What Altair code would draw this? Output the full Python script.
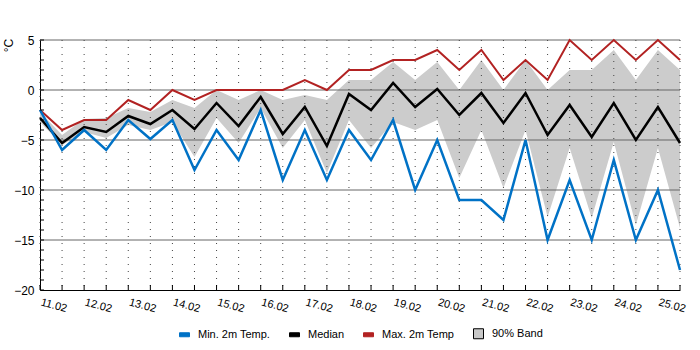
import altair as alt
import pandas as pd

# 12-hourly time steps starting 11.02 00:00
times = pd.date_range("2025-02-11 00:00", periods=30, freq="12h")

min_temp = [-2, -6, -4, -6, -3, -4.9, -3, -8, -4, -7,
            -2, -9, -4, -9, -4, -7, -3, -10, -5, -11,
            -11, -13, -5, -15, -9, -15, -7, -15, -10, -18]
median = [-2.8, -5.3, -3.7, -4.2, -2.6, -3.4, -2, -3.9, -1.3, -3.6,
          -0.7, -4.4, -1.7, -5.6, -0.4, -2, 0.7, -1.7, 0.1, -2.5,
          -0.3, -3.3, -0.3, -4.5, -1.5, -4.7, -1.3, -5, -1.7, -5.3]
max_temp = [-2, -4, -3, -3, -1, -2, 0, -1, 0, 0,
            0, 0, 1, 0, 2, 2, 3, 3, 4, 2,
            4, 1, 3, 1, 5, 3, 5, 3, 5, 3]
band_hi = [-2.2, -4.5, -2.9, -2.8, -1.8, -2.2, -1, -1.8, 0, -1,
           0, -1, -0.5, -1, 1, 1, 2.8, 1, 2.8, 0,
           3, 0, 3, 0, 2, 2, 4, 1, 4, 2]
band_lo = [-3.2, -5.5, -4.2, -4.8, -3.5, -4.0, -3.2, -6.7, -2.8, -5.3,
           -1.8, -5.8, -3, -8.3, -3, -5.8, -3.2, -4, -3, -8.8,
           -4, -9.8, -4, -12.7, -5.8, -12.8, -5.2, -13.5, -5.8, -13.8]

series_names = ["Min. 2m Temp.", "Median", "Max. 2m Temp", "90% Band"]
series_fill = ["#0072c6", "#000000", "#b22222", "#c8c8c8"]
series_stroke = ["#0072c6", "#000000", "#b22222", "#000000"]
grid_y = [-15, -10, -5, 0, 5]
minor_y = list(range(-20, 6))

df = pd.DataFrame({"t": times, "min": min_temp, "med": median, "max": max_temp,
                   "lo": band_lo, "hi": band_hi})

FONT = "Liberation Sans"
t0, t1 = times[0], times[-1]
x_scale = alt.Scale(domain=[
    alt.DateTime(year=t0.year, month=t0.month, date=t0.day, hours=t0.hour),
    alt.DateTime(year=t1.year, month=t1.month, date=t1.day, hours=t1.hour),
], nice=False)
y_scale = alt.Scale(domain=[-20, 5], nice=False)

x_axis = alt.Axis(title=None, grid=False, tickSize=0, domainColor="black",
                  tickCount=30,
                  labelExpr="hours(datum.value) == 0 ? timeFormat(datum.value, '%d.%m') : ''",
                  labelAngle=15, labelAlign="left", labelBaseline="top",
                  labelPadding=6, labelOffset=2, labelFlush=False, labelOverlap=False,
                  labelFont=FONT, labelFontSize=11, labelColor="black")
y_axis = alt.Axis(title="°C", values=[-20, -15, -10, -5, 0, 5], grid=False, tickSize=0,
                  domainColor="black", labelFont=FONT, labelFontSize=12, labelColor="black",
                  labelPadding=6, titleAngle=270, titleX=-32, titleY=5, titleAlign="center",
                  titleBaseline="middle", titleFont=FONT, titleFontSize=12,
                  titleFontWeight="normal", titleColor="black")

base = alt.Chart(df)

band = base.mark_area(color="#cccccc", opacity=1).encode(
    x=alt.X("t:T", scale=x_scale, axis=x_axis),
    y=alt.Y("lo:Q", scale=y_scale, axis=y_axis),
    y2="hi:Q",
)

hgrid = alt.Chart(pd.DataFrame({"v": grid_y})).mark_rule(color="#666666", strokeWidth=1).encode(
    y=alt.Y("v:Q", scale=y_scale)
)
vgrid = base.mark_rule(color="#444444", strokeWidth=1, strokeDash=[1, 6]).encode(
    x=alt.X("t:T", scale=x_scale)
)

red_line = base.mark_line(color="#b22222", strokeWidth=2).encode(
    x=alt.X("t:T", scale=x_scale), y=alt.Y("max:Q", scale=y_scale))
black_line = base.mark_line(color="#000000", strokeWidth=2.5).encode(
    x=alt.X("t:T", scale=x_scale), y=alt.Y("med:Q", scale=y_scale))
blue_line = base.mark_line(color="#0072c6", strokeWidth=2.5).encode(
    x=alt.X("t:T", scale=x_scale), y=alt.Y("min:Q", scale=y_scale))

yticks = alt.Chart(pd.DataFrame({"v": minor_y})).mark_rule(color="black", strokeWidth=1).encode(
    y=alt.Y("v:Q", scale=y_scale), x=alt.value(0), x2=alt.value(4)
)
xticks = base.mark_rule(color="black", strokeWidth=1).encode(
    x=alt.X("t:T", scale=x_scale), y=alt.value(250), y2=alt.value(245)
)

legend = alt.Legend(title=None, orient="none", legendX=139, legendY=288,
                    direction="horizontal", symbolSize=100, symbolStrokeWidth=1,
                    labelFont=FONT, labelFontSize=11, labelColor="black",
                    columnPadding=16, labelOffset=8, padding=0)
rect_path = "M-1,-0.4H1V0.4H-1Z"
square_path = "M-1,-1H1V1H-1Z"
legend_layer = alt.Chart(pd.DataFrame({"name": series_names})).mark_point(
    filled=True, size=100, opacity=1).encode(
    x=alt.value(-300), y=alt.value(-300),
    color=alt.Color("name:N", scale=alt.Scale(domain=series_names, range=series_fill), legend=legend),
    shape=alt.Shape("name:N", scale=alt.Scale(domain=series_names,
                    range=[rect_path, rect_path, rect_path, square_path]), legend=legend),
    stroke=alt.Stroke("name:N", scale=alt.Scale(domain=series_names, range=series_stroke), legend=legend),
)

chart = alt.layer(
    band, hgrid, vgrid, red_line, black_line, blue_line, yticks, xticks, legend_layer
).properties(
    width=640, height=250,
    autosize=alt.AutoSizeParams(type="none"),
    padding={"left": 40, "top": 40, "right": 20, "bottom": 60},
    background="white",
).configure_view(stroke=None)

chart.save("out.html", embed_options={"renderer": "svg", "actions": False})
